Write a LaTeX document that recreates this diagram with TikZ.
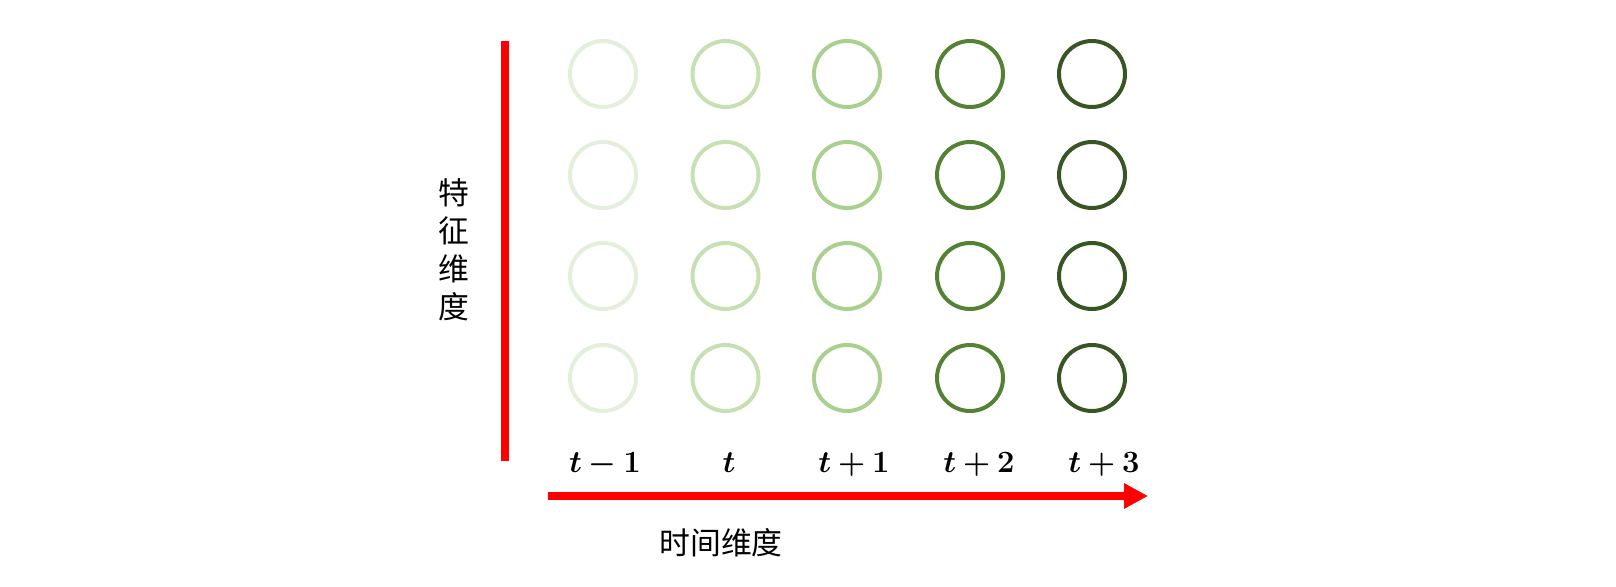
\RequirePackage{fix-cm}
\documentclass[tikz,border=0pt]{standalone}
\usepackage{fontspec}
\usepackage{bm}
\newfontfamily\cjk{Noto Sans CJK SC}
\usetikzlibrary{arrows.meta}
\definecolor{gA}{HTML}{E2EFDA}
\definecolor{gB}{HTML}{C6E0B4}
\definecolor{gC}{HTML}{A9D08E}
\definecolor{gD}{HTML}{548235}
\definecolor{gE}{HTML}{375623}
\begin{document}
\begin{tikzpicture}[x=0.5pt,y=-0.5pt,
  cell/.style={circle,draw,line width=2pt,minimum size=33pt,inner sep=0pt},
  axis/.style={draw=red,line width=4pt},
  tlabel/.style={anchor=base,inner sep=0pt,font=\fontsize{15.5}{18}\selectfont},
  cjklabel/.style={inner sep=0pt,font=\cjk\fontsize{15.4}{19}\selectfont}]
\useasboundingbox (0,0) rectangle (1616,587);
\foreach \c/\x/\col in {1/603/gA,2/725.5/gB,3/847/gC,4/970/gD,5/1092/gE}{
  \foreach \r/\y in {1/74,2/175,3/276,4/378}{
    \node[cell,draw=\col] (c\c\r) at (\x,\y) {};
  }
}
\node[tlabel] (l1) at (605,473) {$\bm{t-1}$};
\node[tlabel] (l2) at (729,473) {$\bm{t}$};
\node[tlabel] (l3) at (854,473) {$\bm{t+1}$};
\node[tlabel] (l4) at (979,473) {$\bm{t+2}$};
\node[tlabel] (l5) at (1104,473) {$\bm{t+3}$};
\coordinate (ya) at (505,41);
\coordinate (yb) at (505,461);
\draw[axis] (ya) -- (yb);
\coordinate (xa) at (548,496);
\coordinate (xb) at (1148,496);
\draw[axis,-{Triangle[length=12pt,width=12pt]}] (xa) -- (xb);
\node[cjklabel] (tl) at (721,543) {时间维度};
\node[cjklabel,align=center] (fl) at (453.5,250) {特\\征\\维\\度};
\end{tikzpicture}
\end{document}
